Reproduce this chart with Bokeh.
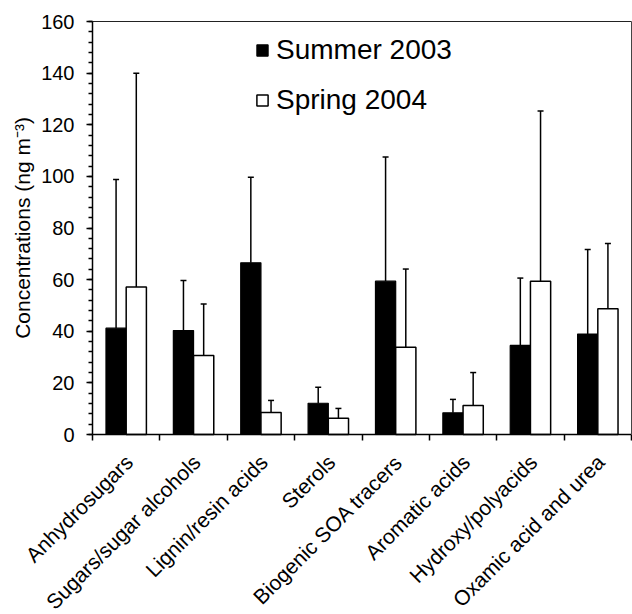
import numpy as np
from bokeh.plotting import figure
from bokeh.models import (ColumnDataSource, Whisker, TeeHead, Legend, LegendItem,
                          FixedTicker, SingleIntervalTicker, Range1d, LinearAxis)
from bokeh.core.properties import value
from bokeh.embed import file_html
from bokeh.resources import INLINE

# Organic compound classes and mean concentrations (ng m-3) with standard deviations
categories = ["Anhydrosugars", "Sugars/sugar alcohols", "Lignin/resin acids", "Sterols",
              "Biogenic SOA tracers", "Aromatic acids", "Hydroxy/polyacids",
              "Oxamic acid and urea"]
summer_2003 = [41.2, 40.3, 66.5, 12.1, 59.4, 8.4, 34.5, 38.9]
summer_2003_sd = [57.6, 19.4, 33.2, 6.2, 48.1, 5.2, 26.1, 32.8]
spring_2004 = [57.1, 30.6, 8.5, 6.3, 33.8, 11.2, 59.4, 48.7]
spring_2004_sd = [82.9, 20.0, 4.7, 3.8, 30.3, 12.8, 65.9, 25.3]
series_labels = ["Summer 2003", "Spring 2004"]
y_max = 160

FONT = "Liberation Sans"
n = len(categories)
centers = np.arange(n) + 0.5
offset = 0.15
bar_w = 0.3

# The plotting frame fills the whole canvas; the axes are pinned at the data
# origin so the slanted category names can use the space under the bars.
W, H = 632, 614
LEFT, RIGHT, TOP, BOTTOM = 92, 1, 21, 180
px_x = (W - LEFT - RIGHT) / n
px_y = (H - TOP - BOTTOM) / y_max

src = ColumnDataSource(dict(
    x_summer=centers - offset,
    x_spring=centers + offset,
    summer=summer_2003,
    summer_top=np.array(summer_2003) + np.array(summer_2003_sd),
    spring=spring_2004,
    spring_top=np.array(spring_2004) + np.array(spring_2004_sd),
))

p = figure(width=W, height=H, title=None,
           x_range=Range1d(-LEFT / px_x, n + RIGHT / px_x),
           y_range=Range1d(-BOTTOM / px_y, y_max + TOP / px_y),
           output_backend="svg", toolbar_location=None,
           min_border_left=0, min_border_right=0, min_border_top=0, min_border_bottom=0)
p.xgrid.visible = False
p.ygrid.visible = False
p.outline_line_color = None
p.background_fill_color = "white"
p.border_fill_color = "white"

# error bars (upper only)
for xcol, lo, hi in (("x_summer", "summer", "summer_top"), ("x_spring", "spring", "spring_top")):
    w = Whisker(source=src, base=xcol, lower=lo, upper=hi, dimension="height",
                line_color="black", line_width=1.5,
                upper_head=TeeHead(size=6, line_color="black", line_width=1.5),
                lower_head=None)
    p.add_layout(w)

r_summer = p.vbar(x="x_summer", top="summer", width=bar_w, source=src,
                  fill_color="black", line_color="black", line_width=1.2)
r_spring = p.vbar(x="x_spring", top="spring", width=bar_w, source=src,
                  fill_color="white", line_color="black", line_width=1.5)

# x axis at y = 0: tick marks on the category boundaries only
xa = p.xaxis[0]
xa.fixed_location = 0
xa.bounds = (0, n)
xa.ticker = FixedTicker(ticks=[], minor_ticks=list(range(n + 1)))
xa.major_tick_out = 0
xa.major_tick_in = 0
xa.minor_tick_out = 6
xa.minor_tick_in = 0
xa.minor_tick_line_color = "black"
xa.minor_tick_line_width = 1.5
xa.axis_line_color = "black"
xa.axis_line_width = 1.5
xa.major_label_standoff = 0

# y axis at x = 0
ya = p.yaxis[0]
ya.fixed_location = 0
ya.bounds = (0, y_max)
ya.ticker = SingleIntervalTicker(interval=20, num_minor_ticks=5)
ya.major_tick_out = 6
ya.major_tick_in = 0
ya.minor_tick_out = 4
ya.minor_tick_in = 0
ya.major_tick_line_color = "black"
ya.minor_tick_line_color = "black"
ya.major_tick_line_width = 1.5
ya.minor_tick_line_width = 1.5
ya.axis_line_color = "black"
ya.axis_line_width = 1.5
ya.major_label_text_font = FONT
ya.major_label_text_font_size = "20px"
ya.major_label_text_color = "black"
ya.major_label_standoff = 12
ya.axis_label = "Concentrations (ng m\u207b\u00b3)"
ya.axis_label_text_font = FONT
ya.axis_label_text_font_size = "21px"
ya.axis_label_text_font_style = "normal"
ya.axis_label_text_color = "black"
ya.axis_label_standoff = 4

# top and right edges of the plot box
top_edge = LinearAxis(fixed_location=y_max, bounds=(0, n), ticker=FixedTicker(ticks=[]),
                      major_tick_out=0, major_tick_in=0, minor_tick_out=0, minor_tick_in=0,
                      major_label_standoff=0, axis_line_color="#222222", axis_line_width=1)
right_edge = LinearAxis(fixed_location=n, bounds=(0, y_max), ticker=FixedTicker(ticks=[]),
                        major_tick_out=0, major_tick_in=0, minor_tick_out=0, minor_tick_in=0,
                        major_label_standoff=0, axis_line_color="#444444", axis_line_width=1)
p.add_layout(top_edge, "above")
p.add_layout(right_edge, "right")

# slanted category names under the x axis
LABEL_DROP = 24  # pixels from the x axis to the end of each name
cat_src = ColumnDataSource(dict(x=centers, y=np.full(n, -LABEL_DROP / px_y), text=categories))
p.text(x="x", y="y", text="text", source=cat_src, angle=np.pi / 4,
       text_align="right", text_baseline="middle", x_offset=3,
       text_font=value(FONT), text_font_size="21px", text_color="black")

legend = Legend(items=[LegendItem(label=series_labels[0], renderers=[r_summer]),
                       LegendItem(label=series_labels[1], renderers=[r_spring])],
                location=(LEFT + 163, BOTTOM + 318), orientation="vertical",
                label_text_font=FONT, label_text_font_size="28px",
                label_text_color="black", glyph_width=14, glyph_height=14,
                label_standoff=7, spacing=18, padding=0, margin=0,
                border_line_color=None, background_fill_alpha=0)
p.add_layout(legend)

open("out.html", "w").write(file_html(p, INLINE))
